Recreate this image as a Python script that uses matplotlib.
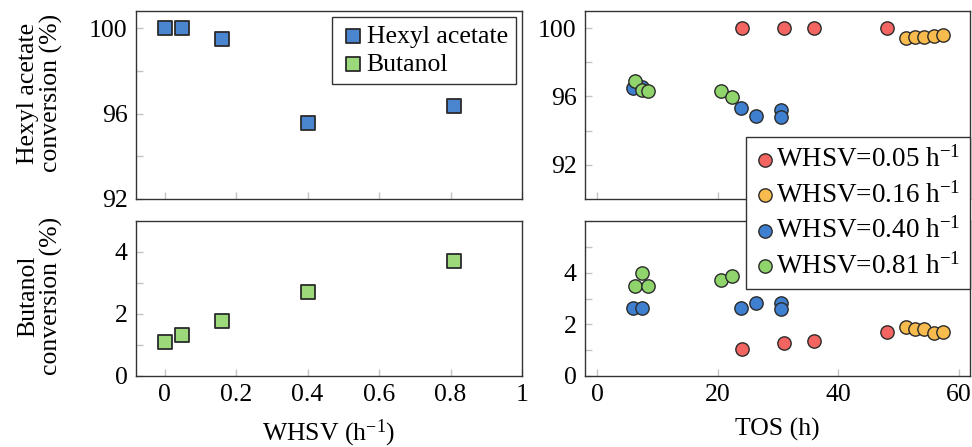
import matplotlib
matplotlib.use("Agg")
import matplotlib.pyplot as plt
from matplotlib.ticker import FixedLocator

plt.rcParams["font.family"] = ["Liberation Serif", "DejaVu Serif"]
plt.rcParams["mathtext.fontset"] = "custom"
plt.rcParams["mathtext.rm"] = "Liberation Serif"
plt.rcParams["mathtext.it"] = "Liberation Serif:italic"

# --- conversion vs. space velocity ---
whsv = [0.0, 0.05, 0.16, 0.40, 0.81]
hexyl_conv = [100.0, 100.0, 99.5, 95.55, 96.35]
butanol_conv = [1.1, 1.32, 1.78, 2.7, 3.72]

# --- conversion vs. time on stream, per WHSV ---
whsv_labels = ["WHSV=0.05 h$^{-1}$", "WHSV=0.16 h$^{-1}$",
               "WHSV=0.40 h$^{-1}$", "WHSV=0.81 h$^{-1}$"]
tos_005 = [24.0, 30.9, 36.0, 48.0]
ha_005 = [99.98, 100.0, 100.0, 100.0]
bu_005 = [1.03, 1.26, 1.34, 1.70]

tos_016 = [51.2, 52.7, 54.2, 55.8, 57.3]
ha_016 = [99.4, 99.5, 99.45, 99.55, 99.62]
bu_016 = [1.88, 1.83, 1.83, 1.67, 1.72]

tos_040 = [6.0, 7.5, 23.8, 26.3, 30.5, 30.5]
ha_040 = [96.5, 96.55, 95.35, 94.85, 95.2, 94.8]
bu_040 = [2.62, 2.62, 2.62, 2.82, 2.82, 2.59]

tos_081 = [6.3, 7.5, 8.5, 20.5, 22.4]
ha_081 = [96.9, 96.35, 96.3, 96.33, 95.98]
bu_081 = [3.5, 4.0, 3.5, 3.72, 3.87]

c_blue_sq = "#4a86d0"
c_green_sq = "#9cd97a"
c_red = "#f26560"
c_orange = "#f7bb4e"
c_blue = "#3f7fcf"
c_green = "#90d46c"
edge = "#2b2b2b"
FS = 18.5

W, H = 972, 447
fig = plt.figure(figsize=(W / 100, H / 100), dpi=100)


def box(x0, y0, x1, y1):
    return [x0 / W, 1 - y1 / H, (x1 - x0) / W, (y1 - y0) / H]


ax_lt = fig.add_axes(box(136, 11, 522, 199))
ax_lb = fig.add_axes(box(136, 221, 522, 376))
ax_rt = fig.add_axes(box(585, 11, 970, 199))
ax_rb = fig.add_axes(box(585, 221, 970, 376))

for ax in (ax_lt, ax_lb, ax_rt, ax_rb):
    for s in ax.spines.values():
        s.set_color("#333333")
        s.set_linewidth(1.0)
    ax.tick_params(which="both", direction="in", color="#c4c4c4",
                   labelsize=FS, top=False, right=False)
    ax.tick_params(which="major", length=5, width=1, pad=6)
    ax.tick_params(which="minor", length=5, width=1)

sq_kw = dict(marker="s", s=100, edgecolors=edge, linewidths=1.3, zorder=3)
ci_kw = dict(marker="o", s=92, edgecolors=edge, linewidths=1.0, zorder=3)

# left column
h1 = ax_lt.scatter(whsv, hexyl_conv, color=c_blue_sq, **sq_kw, label="Hexyl acetate")
h2 = ax_lb.scatter(whsv, butanol_conv, color=c_green_sq, **sq_kw, label="Butanol")
for ax in (ax_lt, ax_lb):
    ax.set_xlim(-0.08, 1.0)
    ax.xaxis.set_major_locator(FixedLocator([0, 0.2, 0.4, 0.6, 0.8, 1.0]))
ax_lt.tick_params(axis="x", labelbottom=False)
ax_lb.set_xticklabels(["0", "0.2", "0.4", "0.6", "0.8", "1"])

ax_lt.set_ylim(92, 100.81)
ax_lt.yaxis.set_major_locator(FixedLocator([92, 96, 100]))
ax_lt.yaxis.set_minor_locator(FixedLocator([94, 98]))
ax_lb.set_ylim(0, 5.0)
ax_lb.yaxis.set_major_locator(FixedLocator([0, 2, 4]))
ax_lb.yaxis.set_minor_locator(FixedLocator([1, 3]))

ax_lt.legend(handles=[h1, h2], loc="upper right", fontsize=FS,
             frameon=True, fancybox=False, edgecolor="#333333",
             framealpha=1, handletextpad=0.05, handlelength=1.0,
             borderpad=0.3, labelspacing=0.2, borderaxespad=0.25,
             markerscale=0.95)

# right column
series = [
    (tos_005, ha_005, bu_005, c_red),
    (tos_016, ha_016, bu_016, c_orange),
    (tos_040, ha_040, bu_040, c_blue),
    (tos_081, ha_081, bu_081, c_green),
]
handles = []
for (t, ha, bu, c), lab in zip(series, whsv_labels):
    hh = ax_rt.scatter(t, ha, color=c, **ci_kw, label=lab)
    ax_rb.scatter(t, bu, color=c, **ci_kw)
    handles.append(hh)

for ax in (ax_rt, ax_rb):
    ax.set_xlim(-2, 61.8)
    ax.xaxis.set_major_locator(FixedLocator([0, 20, 40, 60]))
ax_rt.tick_params(axis="x", labelbottom=False)

ax_rt.set_ylim(90, 101)
ax_rt.yaxis.set_major_locator(FixedLocator([92, 96, 100]))
ax_rt.yaxis.set_minor_locator(FixedLocator([94, 98]))
ax_rb.set_ylim(0, 6)
ax_rb.yaxis.set_major_locator(FixedLocator([0, 2, 4]))
ax_rb.yaxis.set_minor_locator(FixedLocator([1, 3, 5]))

fig.legend(handles=handles, loc="upper right",
           bbox_to_anchor=(970 / W, 1 - 137 / H), fontsize=19.5,
           frameon=True, fancybox=False, edgecolor="#333333",
           framealpha=1, handletextpad=0.05, handlelength=0.7,
           borderpad=0.35, labelspacing=0.33, borderaxespad=0.0,
           markerscale=1.0)

# axis titles
ax_lb.set_xlabel("WHSV (h$^{-1}$)", fontsize=FS, labelpad=8)
ax_rb.set_xlabel("TOS (h)", fontsize=FS, labelpad=8)
fig.text(40 / W, 1 - 93 / H, "Hexyl acetate\nconversion (%)", rotation=90,
         ha="center", va="center", fontsize=FS, linespacing=1.0,
         multialignment="center")
fig.text(40 / W, 1 - 296 / H, "Butanol\nconversion (%)", rotation=90,
         ha="center", va="center", fontsize=FS, linespacing=1.0,
         multialignment="center")

fig.savefig("out.png", dpi=100, facecolor="white")
